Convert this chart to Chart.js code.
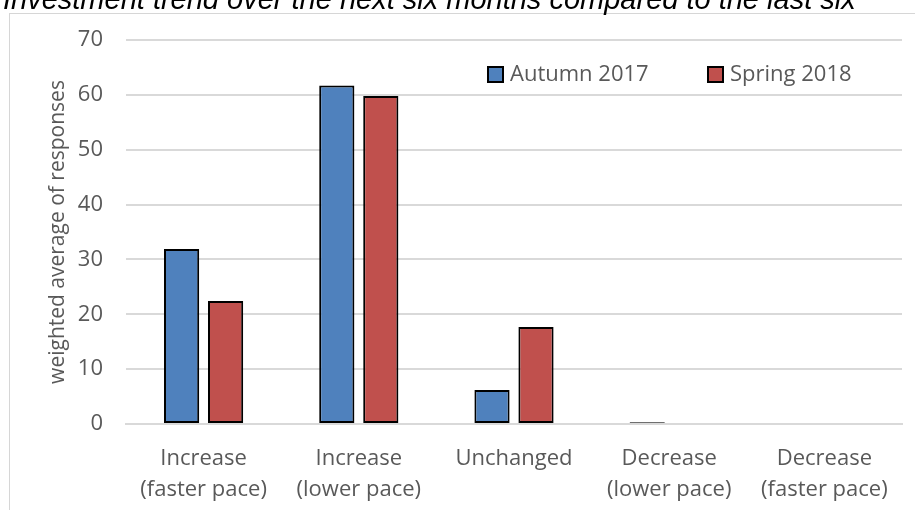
<!DOCTYPE html>
<html>
<head>
<meta charset="utf-8">
<script src="https://cdn.jsdelivr.net/npm/chart.js@4.4.1/dist/chart.umd.min.js"></script>
<style>
  html, body { margin: 0; padding: 0; background: #fff; overflow: hidden; }
  #frame { position: absolute; left: 9px; top: 13px; width: 1000px; height: 600px; border: 1px solid #d6d6d6; }
  #wrap { position: absolute; left: 0; top: 0; width: 915px; height: 510px; }
</style>
</head>
<body>
<div id="frame"></div>
<div id="wrap"><canvas id="myBarChart"></canvas></div>
<script>
var chartTitle = 'Investment trend over the next six months compared to the last six';
var categories = [
  ['Increase', '(faster pace)'],
  ['Increase', '(lower pace)'],
  ['Unchanged'],
  ['Decrease', '(lower pace)'],
  ['Decrease', '(faster pace)']
];
var autumn2017 = [31.9, 61.7, 6.2, 0.3, 0];
var spring2018 = [22.4, 59.8, 17.7, 0, 0];
var yTicks = [0, 10, 20, 30, 40, 50, 60, 70];

var textGrey = '#595959';

// title (cut at top) and legend drawn inside the plot, like the original
var extras = {
  id: 'extras',
  afterDraw: function (chart) {
    var c = chart.ctx;
    c.save();
    c.fillStyle = '#000';
    c.font = 'italic 29px "Liberation Sans", Arial, sans-serif';
    c.textBaseline = 'alphabetic';
    c.textAlign = 'left';
    c.fillText(chartTitle, 3, 9);

    var items = [{x: 488}, {x: 708}];
    c.font = '22px "Open Sans", sans-serif';
    c.textBaseline = 'middle';
    chart.data.datasets.forEach(function (ds, i) {
      var x = items[i].x;
      c.fillStyle = ds.backgroundColor;
      c.fillRect(x, 67, 15, 15);
      c.lineWidth = 2;
      c.strokeStyle = '#000';
      c.strokeRect(x, 67, 15, 15);
      c.fillStyle = textGrey;
      c.fillText(ds.label, x + 22, 75);
    });
    c.restore();
  }
};

var ctx = document.getElementById('myBarChart').getContext('2d');
var myBarChart = new Chart(ctx, {
  type: 'bar',
  data: {
    labels: categories,
    datasets: [
      {
        label: 'Autumn 2017',
        data: autumn2017,
        backgroundColor: '#4f81bd',
        borderColor: '#000',
        borderWidth: 2,
        borderSkipped: false
      },
      {
        label: 'Spring 2018',
        data: spring2018,
        backgroundColor: '#c0504d',
        borderColor: '#000',
        borderWidth: 2,
        borderSkipped: false
      }
    ]
  },
  options: {
    responsive: true,
    maintainAspectRatio: false,
    animation: false,
    datasets: { bar: { categoryPercentage: 0.567, barPercentage: 0.8 } },
    layout: { padding: { left: 0, right: 13, top: 40, bottom: 0 } },
    plugins: {
      legend: { display: false },
      tooltip: { enabled: false }
    },
    scales: {
      x: {
        grid: { display: false },
        border: { color: '#d9d9d9', width: 2 },
        ticks: {
          color: textGrey,
          padding: 11,
          maxRotation: 0,
          autoSkip: false,
          font: { family: 'Open Sans', size: 22, lineHeight: 1.42 }
        },
        afterFit: function (scale) { scale.height = 86; }
      },
      y: {
        min: 0,
        max: 70,
        afterBuildTicks: function (scale) {
          scale.ticks = yTicks.map(function (v) { return { value: v }; });
        },
        grid: { color: '#d9d9d9', lineWidth: 2, drawTicks: false },
        border: { display: false },
        ticks: {
          color: textGrey,
          padding: 23,
          font: { family: 'Open Sans', size: 22 }
        },
        title: {
          display: true,
          text: 'weighted average of responses',
          color: textGrey,
          padding: { top: 45, bottom: 0 },
          font: { family: 'Open Sans', size: 21 }
        },
        afterFit: function (scale) { scale.width = 126; }
      }
    }
  },
  plugins: [extras]
});
</script>
</body>
</html>
